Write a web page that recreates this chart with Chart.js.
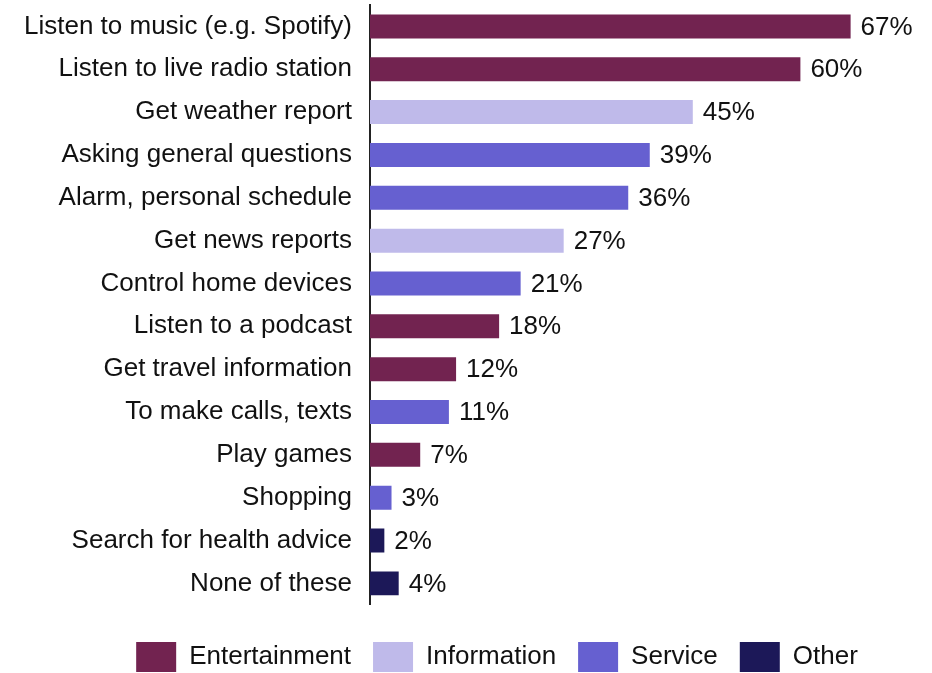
<!DOCTYPE html>
<html>
<head>
<meta charset="utf-8">
<script src="https://cdn.jsdelivr.net/npm/chart.js@4/dist/chart.umd.min.js"></script>
<style>
  html, body { margin: 0; padding: 0; background: #ffffff; }
  #wrap { width: 932px; height: 673px; }
</style>
</head>
<body>
<div id="wrap"><canvas id="c" width="932" height="673"></canvas></div>
<script>
// Activities and share of respondents (%)
const activities = [
  "Listen to music (e.g. Spotify)",
  "Listen to live radio station",
  "Get weather report",
  "Asking general questions",
  "Alarm, personal schedule",
  "Get news reports",
  "Control home devices",
  "Listen to a podcast",
  "Get travel information",
  "To make calls, texts",
  "Play games",
  "Shopping",
  "Search for health advice",
  "None of these"
];
const shares = [67, 60, 45, 39, 36, 27, 21, 18, 12, 11, 7, 3, 2, 4];
const activityGroup = [
  "Entertainment", "Entertainment", "Information", "Service", "Service",
  "Information", "Service", "Entertainment", "Entertainment", "Service",
  "Entertainment", "Service", "Other", "Other"
];
const groups = ["Entertainment", "Information", "Service", "Other"];
const groupColors = ["#722350", "#BFBAEA", "#6660D0", "#1C1858"];

const FONT = "'Liberation Sans', Arial, sans-serif";
const FONT_SIZE = 26;
const TEXT_COLOR = "#111111";
const PAD_LEFT = 12;
const AXIS_X = 370;
const LEGEND_SHIFT = 37;

const barColors = activityGroup.map(g => groupColors[groups.indexOf(g)]);

// Writes the percentage just past the end of each bar
const valueLabels = {
  id: 'valueLabels',
  afterDatasetsDraw(chart) {
    const ctx = chart.ctx;
    const meta = chart.getDatasetMeta(0);
    ctx.save();
    ctx.font = FONT_SIZE + "px " + FONT;
    ctx.fillStyle = TEXT_COLOR;
    ctx.textAlign = "left";
    ctx.textBaseline = "middle";
    meta.data.forEach((bar, i) => {
      ctx.fillText(shares[i] + "%", bar.x + 10, bar.y + 1);
    });
    ctx.restore();
  }
};

// Nudges the legend row to the right, under the bars
const legendOffset = {
  id: 'legendOffset',
  afterLayout(chart) {
    const lg = chart.legend;
    if (lg) { lg.left += LEGEND_SHIFT; lg.right += LEGEND_SHIFT; }
  }
};

new Chart(document.getElementById('c'), {
  type: 'bar',
  data: {
    labels: activities,
    datasets: [{
      data: shares,
      backgroundColor: barColors,
      borderWidth: 0,
      barPercentage: 0.56,
      categoryPercentage: 1.0
    }]
  },
  options: {
    indexAxis: 'y',
    responsive: false,
    animation: false,
    layout: { padding: { top: 5, right: 24, left: PAD_LEFT, bottom: -9 } },
    scales: {
      x: {
        display: false,
        min: 0,
        max: 75
      },
      y: {
        grid: { display: false, drawTicks: false },
        border: { display: true, color: '#222222', width: 2 },
        ticks: {
          color: TEXT_COLOR,
          padding: 18,
          font: { family: FONT, size: FONT_SIZE }
        },
        // fixed axis position at AXIS_X
        afterFit(scale) {
          scale.width = AXIS_X - PAD_LEFT;
          scale.paddingTop = 0;
          scale.paddingBottom = 0;
        }
      }
    },
    plugins: {
      tooltip: { enabled: false },
      legend: {
        position: 'bottom',
        title: {
          display: true,
          text: '',
          font: { size: 1 },
          padding: { top: 14, bottom: 0 }
        },
        labels: {
          boxWidth: 40,
          boxHeight: 30,
          padding: 22,
          color: TEXT_COLOR,
          font: { family: FONT, size: FONT_SIZE },
          generateLabels: () => groups.map((g, i) => ({
            text: g,
            fillStyle: groupColors[i],
            strokeStyle: groupColors[i],
            fontColor: TEXT_COLOR,
            lineWidth: 0,
            hidden: false,
            datasetIndex: 0
          }))
        }
      }
    }
  },
  plugins: [valueLabels, legendOffset]
});
</script>
</body>
</html>
